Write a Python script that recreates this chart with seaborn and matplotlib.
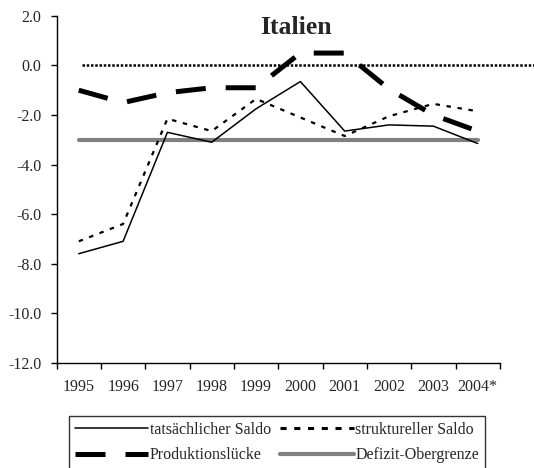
import matplotlib
matplotlib.use("Agg")
import matplotlib.pyplot as plt
import seaborn as sns
import pandas as pd
from matplotlib.lines import Line2D

years = ["1995", "1996", "1997", "1998", "1999", "2000", "2001", "2002", "2003", "2004*"]
tatsaechlich = [-7.6, -7.1, -2.7, -3.1, -1.75, -0.65, -2.65, -2.4, -2.45, -3.15]
strukturell = [-7.1, -6.4, -2.15, -2.65, -1.35, -2.1, -2.85, -2.05, -1.55, -1.85]
produktion = [-1.0, -1.5, -1.1, -0.9, -0.9, 0.5, 0.5, -0.95, -2.0, -2.65]
grenze = [-3.0] * 10
y_ticks = [2.0, 0.0, -2.0, -4.0, -6.0, -8.0, -10.0, -12.0]

sns.set_theme(style="white")
plt.rcParams["font.family"] = ["Liberation Serif", "DejaVu Serif"]

fig = plt.figure(figsize=(5.34, 4.68), dpi=100)
ax = fig.add_axes([0.106, 0.225, 0.83, 0.741])

x = list(range(len(years)))
df = pd.DataFrame({"x": x, "t": tatsaechlich, "s": strukturell, "p": produktion, "g": grenze})

# zero reference dotted line extending beyond plot
ax.plot([0.08, 10.45], [0, 0], color="black", lw=1.8, linestyle=(0, (1.0, 0.7)), clip_on=False, zorder=1)

sns.lineplot(data=df, x="x", y="g", ax=ax, color="#808080", lw=3, zorder=2)
sns.lineplot(data=df, x="x", y="p", ax=ax, color="black", lw=3.6, zorder=3)
ax.lines[-1].set_dashes((6, 4))
sns.lineplot(data=df, x="x", y="s", ax=ax, color="black", lw=1.6, zorder=3)
ax.lines[-1].set_dashes((2, 3))
sns.lineplot(data=df, x="x", y="t", ax=ax, color="black", lw=1.1, zorder=4)

ax.set_xlim(-0.5, 9.5)
ax.set_ylim(-12, 2)
ax.set_yticks(y_ticks)
ax.set_yticklabels([f"{v:.1f}" for v in y_ticks], fontsize=11.5)
ax.set_xticks(x)
ax.set_xticklabels(years, fontsize=11.5)
ax.set_xticks([i - 0.5 for i in range(len(years) + 1)], minor=True)
ax.tick_params(axis="x", which="major", length=0, pad=12)
ax.tick_params(axis="x", which="minor", length=4, width=1, direction="out", color="black", bottom=True)
ax.tick_params(axis="y", length=4, width=1, direction="out", color="black", left=True, pad=7)
ax.set_xlabel("")
ax.set_ylabel("")
for s in ["top", "right"]:
    ax.spines[s].set_visible(False)
for s in ["left", "bottom"]:
    ax.spines[s].set_color("black")
    ax.spines[s].set_linewidth(1)

ax.text(0.54, 1.0, "Italien", transform=ax.transAxes, ha="center", va="top",
        fontsize=18.5, fontweight="bold")

handles = [
    Line2D([], [], color="black", lw=1.1),
    Line2D([], [], color="black", lw=3.6, dashes=(6, 4)),
    Line2D([], [], color="black", lw=2.2, dashes=(2, 2.5)),
    Line2D([], [], color="#808080", lw=3),
]
labels = ["tatsächlicher Saldo", "Produktionslücke", "struktureller Saldo", "Defizit-Obergrenze"]
leg = fig.legend(handles, labels, ncol=2, loc="upper left", bbox_to_anchor=(69 / 534, 1 - 416 / 468),
                 frameon=True, fancybox=False, edgecolor="black", fontsize=11.5,
                 handlelength=4.6, handletextpad=0.1, columnspacing=0.6, labelspacing=0.62,
                 borderpad=0.35, borderaxespad=0)
leg.get_frame().set_linewidth(1)

fig.savefig("out.png", dpi=100)
